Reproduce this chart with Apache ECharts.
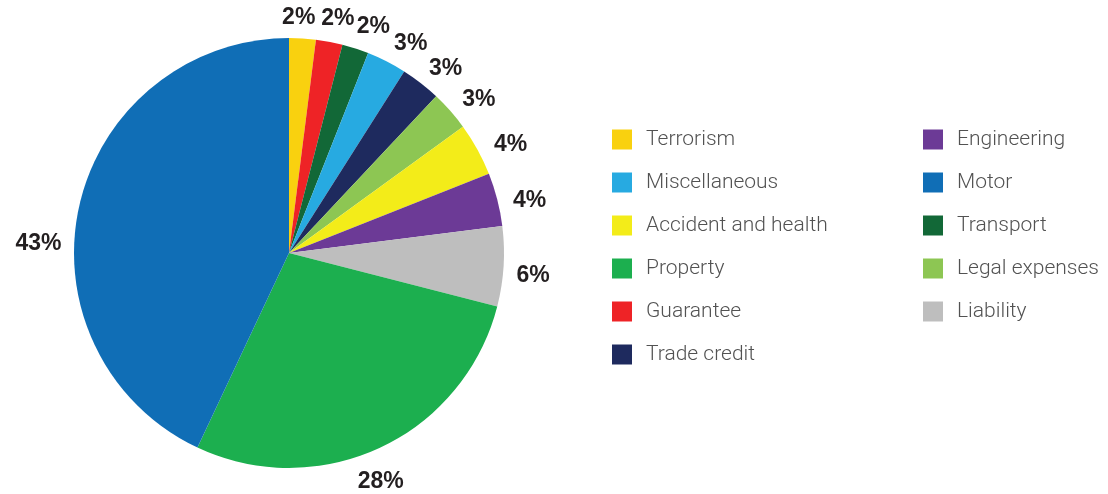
<!DOCTYPE html>
<html>
<head>
<meta charset="utf-8">
<script src="https://cdn.jsdelivr.net/npm/echarts@6/dist/echarts.min.js"></script>
<style>
  html, body { margin: 0; padding: 0; background: #fff; }
  #chart { width: 1108px; height: 494px; }
</style>
</head>
<body>
<div id="chart"></div>
<script>
// slices, clockwise from 12 o'clock
const categories = ["Terrorism", "Guarantee", "Transport", "Miscellaneous", "Trade credit",
  "Legal expenses", "Accident and health", "Engineering", "Liability", "Property", "Motor"];
const shares = [2, 2, 2, 3, 3, 3, 4, 4, 6, 28, 43];
const colors = ["#f9d10f", "#ee2326", "#126837", "#27aae1", "#1e2a5e",
  "#8dc653", "#f3ec19", "#6c3a96", "#bebebe", "#1caf4f", "#106eb6"];

const legendLeft = ["Terrorism", "Miscellaneous", "Accident and health", "Property", "Guarantee", "Trade credit"];
const legendRight = ["Engineering", "Motor", "Transport", "Legal expenses", "Liability"];

// small hand nudges for a few labels
const labelNudge = {
  "Terrorism": [-8, 3],
  "Transport": [5, 0],
  "Miscellaneous": [6, 2],
  "Trade credit": [1, 2],
  "Engineering": [-4, -2],
  "Liability": [-8, -5],
  "Property": [-17, -10],
  "Motor": [-8, 33]
};

const chart = echarts.init(document.getElementById("chart"));

const pieData = categories.map((name, i) => ({
  name: name,
  value: shares[i],
  itemStyle: { color: colors[i] }
}));

const labelData = categories.map((name, i) => {
  const n = labelNudge[name] || [0, 0];
  return {
    name: name,
    value: shares[i],
    label: { offset: [2 + n[0], 12 + n[1]] }
  };
});

const legendBase = {
  orient: "vertical",
  top: 129,
  padding: 0,
  icon: "rect",
  itemWidth: 20,
  itemHeight: 20,
  itemGap: 22,
  selectedMode: false,
  textStyle: {
    color: "#525252",
    fontSize: 21,
    fontFamily: "Roboto",
    fontWeight: 300,
    lineHeight: 20,
    padding: [0, 0, 0, 9]
  }
};

chart.setOption({
  animation: false,
  legend: [
    Object.assign({}, legendBase, { left: 612, data: legendLeft }),
    Object.assign({}, legendBase, { left: 923, data: legendRight })
  ],
  series: [
    {
      name: "Share",
      type: "pie",
      center: [289, 253],
      radius: [0, 215],
      startAngle: 90,
      clockwise: true,
      label: { show: false },
      labelLine: { show: false },
      emphasis: { disabled: true },
      data: pieData
    },
    {
      // invisible ring just for the % labels
      name: "Labels",
      type: "pie",
      silent: true,
      center: [289, 253],
      radius: [215, 280],
      startAngle: 90,
      clockwise: true,
      avoidLabelOverlap: false,
      labelLayout: { hideOverlap: false },
      itemStyle: { color: "rgba(0,0,0,0)" },
      emphasis: { disabled: true },
      labelLine: { show: false },
      label: {
        show: true,
        position: "inside",
        rotate: 0,
        color: "#231f20",
        fontSize: 23,
        fontWeight: "bold",
        fontFamily: "Liberation Sans",
        formatter: p => p.value + "%"
      },
      data: labelData
    }
  ]
});
</script>
</body>
</html>
